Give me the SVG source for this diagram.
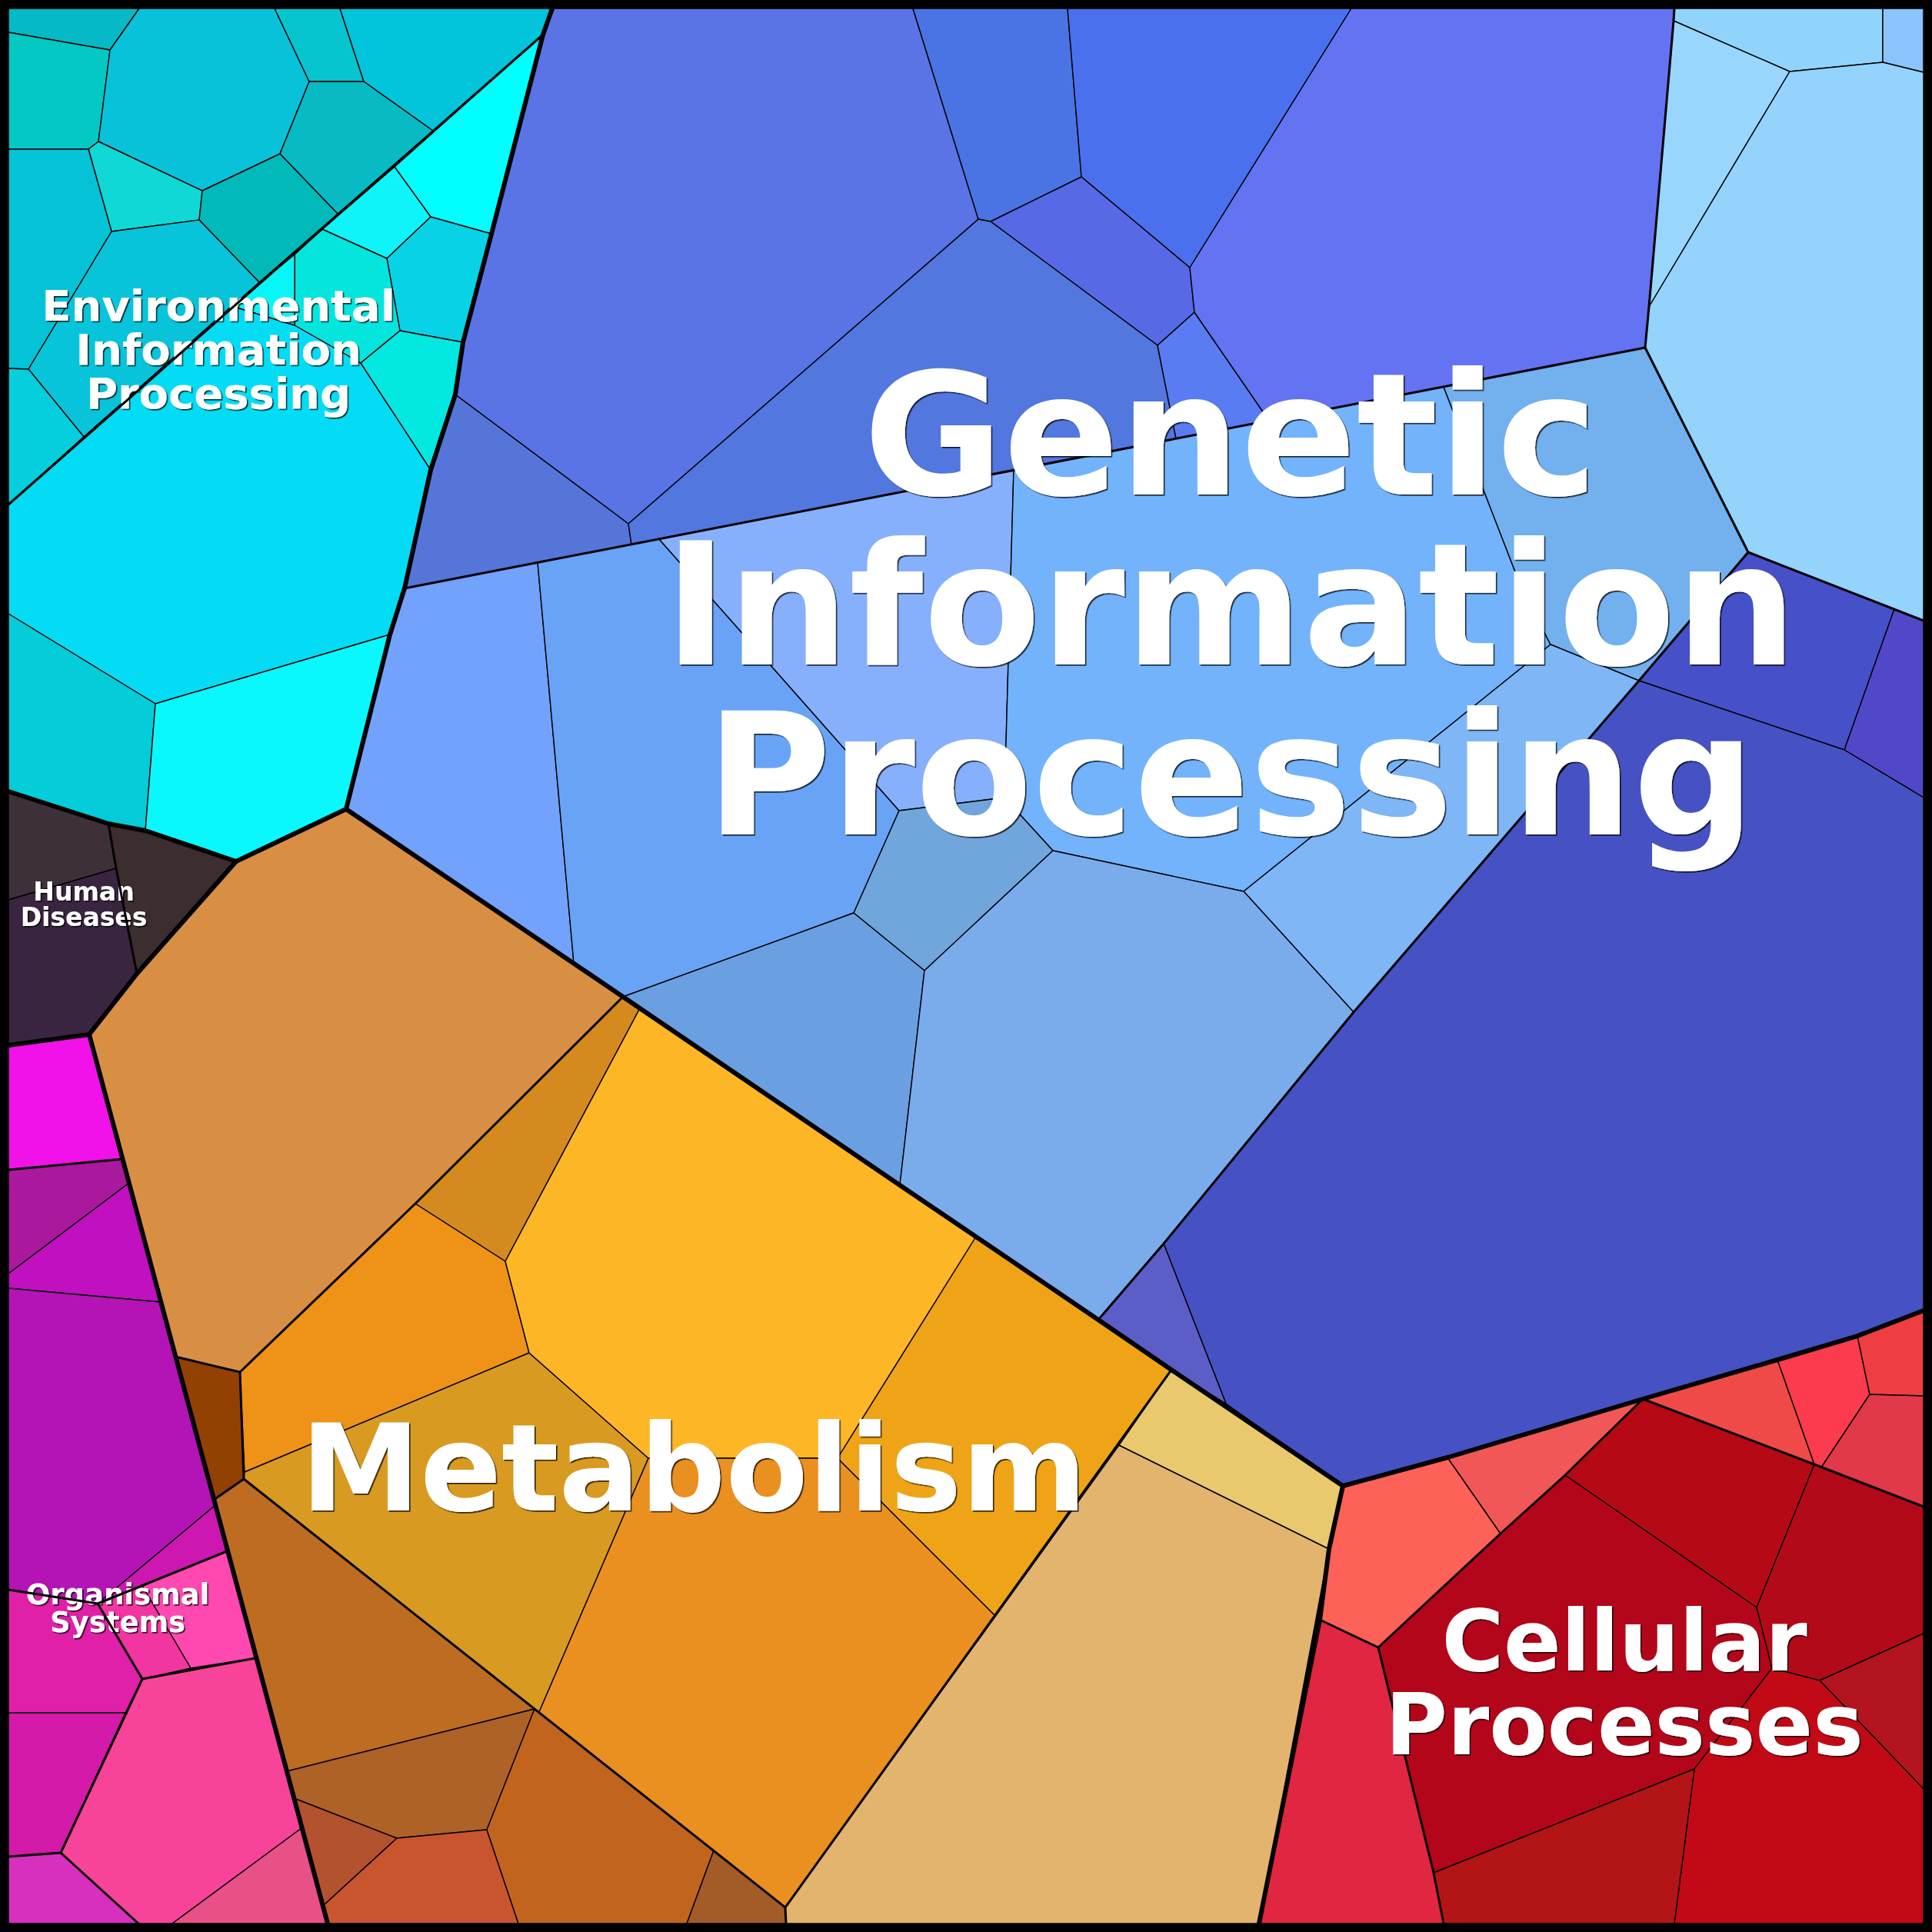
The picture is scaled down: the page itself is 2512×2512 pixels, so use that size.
<svg xmlns="http://www.w3.org/2000/svg" width="2512" height="2512" viewBox="0 0 2512 2512">
<style>
.c{stroke:#000;stroke-width:1.4;stroke-linejoin:round}
.b2{fill:none;stroke:#000;stroke-width:3;stroke-linejoin:round;stroke-linecap:round}
.b1{fill:none;stroke:#000;stroke-width:6;stroke-linejoin:round;stroke-linecap:round}
.lbl{font-family:"DejaVu Sans","Liberation Sans",sans-serif;font-weight:bold;fill:#fff;text-anchor:middle;filter:url(#sh)}
</style>
<defs>
<filter id="sh" x="-5%" y="-10%" width="110%" height="130%">
<feDropShadow dx="1.6" dy="1.6" stdDeviation="0.6" flood-color="#000" flood-opacity="0.8"/>
</filter>
</defs>
<rect x="0" y="0" width="2512" height="2512" fill="#000"/>
<g id="environmental">
<polygon class="c" fill="#05B9C6" points="11,11 181,11 143,65 11,42"/>
<polygon class="c" fill="#03C8C4" points="11,42 143,65 128,184 115,194 11,194"/>
<polygon class="c" fill="#08C2DA" points="181,11 357,11 402,106 364,200 263,248 128,184 143,65"/>
<polygon class="c" fill="#06C5CE" points="357,11 442,11 473,106 402,106"/>
<polygon class="c" fill="#02C5DB" points="442,11 718,11 706,45 563,170 473,106"/>
<polygon class="c" fill="#07BAC4" points="473,106 563,170 439,278 364,200 402,106"/>
<polygon class="c" fill="#0FD8D6" points="115,194 128,184 263,248 259,286 145,301"/>
<polygon class="c" fill="#02B9BA" points="263,248 364,200 439,278 337,367 259,286"/>
<polygon class="c" fill="#04C3D6" points="11,194 115,194 145,301 37,480 11,479"/>
<polygon class="c" fill="#08C4DA" points="145,301 259,286 337,367 109,568 37,480"/>
<polygon class="c" fill="#06CFDD" points="11,479 37,480 109,568 11,656"/>
<polygon class="c" fill="#00FFFF" points="706,45 639,304 560,282 513,217"/>
<polygon class="c" fill="#0EF4F8" points="513,217 560,282 503,336 419,298"/>
<polygon class="c" fill="#08D3E6" points="560,282 639,304 602,445 520,430 503,336"/>
<polygon class="c" fill="#04E5DE" points="419,298 503,336 520,430 469,472 383,423 383,331"/>
<polygon class="c" fill="#08F6F8" points="383,331 383,423 301,398"/>
<polygon class="c" fill="#03DCF4" points="11,656 109,568 301,398 383,423 469,472 560,611 526,765 507,825 202,915 11,798"/>
<polygon class="c" fill="#03E8E0" points="520,430 602,445 592,513 560,611 469,472"/>
<polygon class="c" fill="#04CCD8" points="11,798 202,915 189,1080 141,1071 11,1029"/>
<polygon class="c" fill="#08F8FE" points="202,915 507,825 450,1052 307,1120 189,1080"/>
<text class="lbl" font-size="56" x="284" y="417">Environmental</text>
<text class="lbl" font-size="56" x="284" y="474">Information</text>
<text class="lbl" font-size="56" x="284" y="531">Processing</text>
</g>
<g id="human-diseases">
<polygon class="c" fill="#3E3038" points="11,1029 141,1071 151,1129 11,1170"/>
<polygon class="c" fill="#3C2D2E" points="141,1071 189,1080 307,1120 178,1266 151,1129"/>
<polygon class="c" fill="#3A2540" points="11,1170 151,1129 178,1266 116,1345 11,1359"/>
<text class="lbl" font-size="33" x="109" y="1171">Human</text>
<text class="lbl" font-size="33" x="109" y="1204">Diseases</text>
</g>
<g id="organismal-systems">
<polygon class="c" fill="#F012E8" points="11,1359 116,1345 159,1507 11,1521"/>
<polygon class="c" fill="#AA189E" points="11,1521 159,1507 168,1538 11,1656"/>
<polygon class="c" fill="#C010C0" points="11,1656 168,1538 209,1693 11,1675"/>
<polygon class="c" fill="#B414B6" points="11,1675 209,1693 280,1957 127,2085 11,2067"/>
<polygon class="c" fill="#CC18B0" points="127,2085 280,1957 295,2017"/>
<polygon class="c" fill="#FF48B0" points="295,2017 332,2156 248,2169 185,2062"/>
<polygon class="c" fill="#F235A0" points="127,2085 185,2062 248,2169 185,2183"/>
<polygon class="c" fill="#E020A8" points="11,2067 127,2085 185,2183 163,2227 11,2227"/>
<polygon class="c" fill="#D41AA8" points="11,2227 163,2227 79,2409 11,2414"/>
<polygon class="c" fill="#D830BE" points="11,2414 79,2409 180,2501 11,2501"/>
<polygon class="c" fill="#F7449A" points="185,2183 332,2156 392,2377 224,2501 180,2501 79,2409"/>
<polygon class="c" fill="#E85088" points="392,2377 426,2501 224,2501"/>
<text class="lbl" font-size="37" x="153" y="2086">Organismal</text>
<text class="lbl" font-size="37" x="153" y="2122">Systems</text>
</g>
<g id="metabolism">
<polygon class="c" fill="#D98F43" points="307,1120 450,1052 810,1296 540,1565 312,1784 228,1764 116,1345 178,1266"/>
<polygon class="c" fill="#D48A1E" points="810,1296 832,1311 657,1640 540,1565"/>
<polygon class="c" fill="#EE9317" points="540,1565 657,1640 688,1759 318,1914 312,1784"/>
<polygon class="c" fill="#924103" points="228,1764 312,1784 317,1923 278,1950"/>
<polygon class="c" fill="#D99A21" points="318,1914 688,1759 843,1896 701,2226 317,1923"/>
<polygon class="c" fill="#FDB626" points="657,1640 832,1311 1269,1608 1089,1896 843,1896 688,1759"/>
<polygon class="c" fill="#EFA418" points="1269,1608 1523,1781 1294,2101 1089,1896"/>
<polygon class="c" fill="#EA9020" points="843,1896 1089,1896 1294,2101 1021,2480 701,2226"/>
<polygon class="c" fill="#BD6C22" points="278,1950 317,1923 695,2222 373,2303"/>
<polygon class="c" fill="#AE6227" points="373,2303 695,2222 633,2379 516,2390 382,2338"/>
<polygon class="c" fill="#B3522E" points="382,2338 516,2390 420,2478"/>
<polygon class="c" fill="#C8552E" points="516,2390 633,2379 674,2501 426,2501 420,2478"/>
<polygon class="c" fill="#C1651E" points="633,2379 695,2222 928,2406 893,2501 674,2501"/>
<polygon class="c" fill="#A35C27" points="928,2406 1021,2480 1022,2501 893,2501"/>
<polygon class="c" fill="#E3B46E" points="1021,2480 1455,1879 1728,2014 1637,2501 1022,2501"/>
<polygon class="c" fill="#EAC86E" points="1523,1781 1746,1932 1728,2014 1455,1879"/>
</g>
<g id="genetic">
<polygon class="c" fill="#5A73E5" points="718,11 1187,11 1272,285 817,681 592,513 602,445 639,304 706,45"/>
<polygon class="c" fill="#5576D8" points="592,513 817,681 821,708 526,765 560,611"/>
<polygon class="c" fill="#4A74E3" points="1187,11 1388,11 1406,230 1288,288 1272,285"/>
<polygon class="c" fill="#4A70EE" points="1388,11 1757,11 1547,348 1406,230"/>
<polygon class="c" fill="#5869E6" points="1288,288 1406,230 1547,348 1553,406 1505,449"/>
<polygon class="c" fill="#5277DE" points="817,681 1272,285 1288,288 1505,449 1529,570 821,708"/>
<polygon class="c" fill="#5A7CF2" points="1505,449 1553,406 1650,547 1529,570"/>
<polygon class="c" fill="#6473F2" points="1757,11 2177,11 2176,27 2144,399 2139,452 1650,547 1553,406 1547,348"/>
<polygon class="c" fill="#72A2FB" points="526,765 699,731 746,1252 450,1052 507,825"/>
<polygon class="c" fill="#68A3F6" points="699,731 857,701 1169,1054 1110,1187 810,1296 746,1252"/>
<polygon class="c" fill="#87B0FC" points="857,701 1318,611 1306,1037 1169,1054"/>
<polygon class="c" fill="#72B3FC" points="1318,611 1877,503 1978,764 2016,838 1617,1159 1369,1106 1306,1037"/>
<polygon class="c" fill="#72B0EE" points="1877,503 2139,452 2273,718 2131,885 2016,838 1978,764"/>
<polygon class="c" fill="#7EB6F6" points="2016,838 2131,885 1760,1316 1617,1159"/>
<polygon class="c" fill="#70A6DC" points="1169,1054 1306,1037 1369,1106 1202,1262 1110,1187"/>
<polygon class="c" fill="#6AA0E2" points="810,1296 1110,1187 1202,1262 1170,1541"/>
<polygon class="c" fill="#7AACEC" points="1202,1262 1369,1106 1617,1159 1760,1316 1513,1617 1428,1716 1269,1608 1170,1541"/>
<polygon class="c" fill="#90D4FC" points="2177,11 2448,11 2448,81 2327,93 2176,27"/>
<polygon class="c" fill="#8BC3FC" points="2448,11 2501,11 2501,94 2448,81"/>
<polygon class="c" fill="#98D6FD" points="2176,27 2327,93 2144,399"/>
<polygon class="c" fill="#93D3FC" points="2327,93 2448,81 2501,94 2501,807 2463,792 2273,718 2139,452 2144,399"/>
<polygon class="c" fill="#4650C8" points="2273,718 2463,792 2398,975 2131,885"/>
<polygon class="c" fill="#5048C8" points="2463,792 2501,807 2501,1037 2398,975"/>
<polygon class="c" fill="#4652C3" points="2131,885 2398,975 2501,1037 2501,1704 2415,1737 2311,1768 2136,1819 1882,1895 1746,1932 1594,1825 1513,1617 1760,1316"/>
<polygon class="c" fill="#5D5DC8" points="1428,1716 1513,1617 1594,1825 1523,1781"/>
</g>
<g id="cellular">
<polygon class="c" fill="#FE6158" points="1746,1932 1882,1895 1951,1994 1792,2142 1716,2106 1728,2014"/>
<polygon class="c" fill="#F25757" points="1882,1895 2136,1819 2035,1918 1951,1994"/>
<polygon class="c" fill="#EF4A47" points="2136,1819 2311,1768 2359,1904"/>
<polygon class="c" fill="#FC3B4E" points="2311,1768 2415,1737 2431,1813 2368,1908 2359,1904"/>
<polygon class="c" fill="#EE3E41" points="2415,1737 2501,1704 2501,1815 2431,1813"/>
<polygon class="c" fill="#E1384A" points="2431,1813 2501,1815 2501,1959 2368,1908"/>
<polygon class="c" fill="#E12641" points="1716,2106 1792,2142 1864,2435 1877,2501 1637,2501"/>
<polygon class="c" fill="#B50A16" points="2136,1819 2359,1904 2284,2090 2035,1918"/>
<polygon class="c" fill="#B3061A" points="2035,1918 2284,2090 2304,2169 2203,2300 1864,2435 1792,2142 1951,1994"/>
<polygon class="c" fill="#B30A1A" points="2359,1904 2368,1908 2501,1959 2501,2124 2366,2185 2304,2169 2284,2090"/>
<polygon class="c" fill="#B4141F" points="2366,2185 2501,2124 2501,2326"/>
<polygon class="c" fill="#C10A16" points="2304,2169 2366,2185 2501,2326 2501,2501 2177,2501 2203,2300"/>
<polygon class="c" fill="#B31516" points="1864,2435 2203,2300 2177,2501 1877,2501"/>
</g>
<g id="borders">
<polyline class="b2" points="706,45 11,656"/>
<polyline class="b2" points="141,1071 151,1129 178,1266"/>
<polyline class="b2" points="11,1521 159,1507"/>
<polyline class="b2" points="11,2067 127,2085 295,2017"/>
<polyline class="b2" points="127,2085 185,2183 332,2156"/>
<polyline class="b2" points="185,2183 79,2409 180,2501"/>
<polyline class="b2" points="79,2409 11,2414"/>
<polyline class="b2" points="810,1296 540,1565 312,1784 228,1764"/>
<polyline class="b2" points="312,1784 317,1923 278,1950"/>
<polyline class="b2" points="317,1923 1021,2480 1022,2501"/>
<polyline class="b2" points="1021,2480 1523,1781"/>
<polyline class="b2" points="526,765 2139,452"/>
<polyline class="b2" points="2177,11 2176,27 2144,399 2139,452 2273,718 2501,807"/>
<polyline class="b2" points="2273,718 2131,885 1760,1316 1513,1617 1428,1716"/>
<polyline class="b2" points="1716,2106 1792,2142 1951,1994 2035,1918 2136,1819 2359,1904 2501,1959"/>
<polyline class="b2" points="1792,2142 1864,2435 1877,2501"/>
<polyline class="b1" points="718,11 706,45 639,304 602,445 592,513 560,611 526,765 507,825 450,1052 307,1120 189,1080 141,1071 11,1029"/>
<polyline class="b1" points="450,1052 810,1296 832,1311 1170,1541 1269,1608 1428,1716 1523,1781 1746,1932 1882,1895 2136,1819 2311,1768 2415,1737 2501,1704"/>
<polyline class="b1" points="1746,1932 1728,2014 1716,2106 1637,2501"/>
<polyline class="b1" points="307,1120 178,1266 116,1345 11,1359"/>
<polyline class="b1" points="116,1345 426,2501"/>
<rect x="5.5" y="5.5" width="2501" height="2501" fill="none" stroke="#000" stroke-width="11"/>
</g>
<g id="labels">
<text class="lbl" font-size="222" x="1600" y="643">Genetic</text>
<text class="lbl" font-size="222" x="1600" y="864">Information</text>
<text class="lbl" font-size="222" x="1600" y="1085">Processing</text>
<text class="lbl" font-size="156" x="902" y="1964">Metabolism</text>
<text class="lbl" font-size="110" x="2112" y="2172">Cellular</text>
<text class="lbl" font-size="110" x="2112" y="2281">Processes</text>
</g>
</svg>
